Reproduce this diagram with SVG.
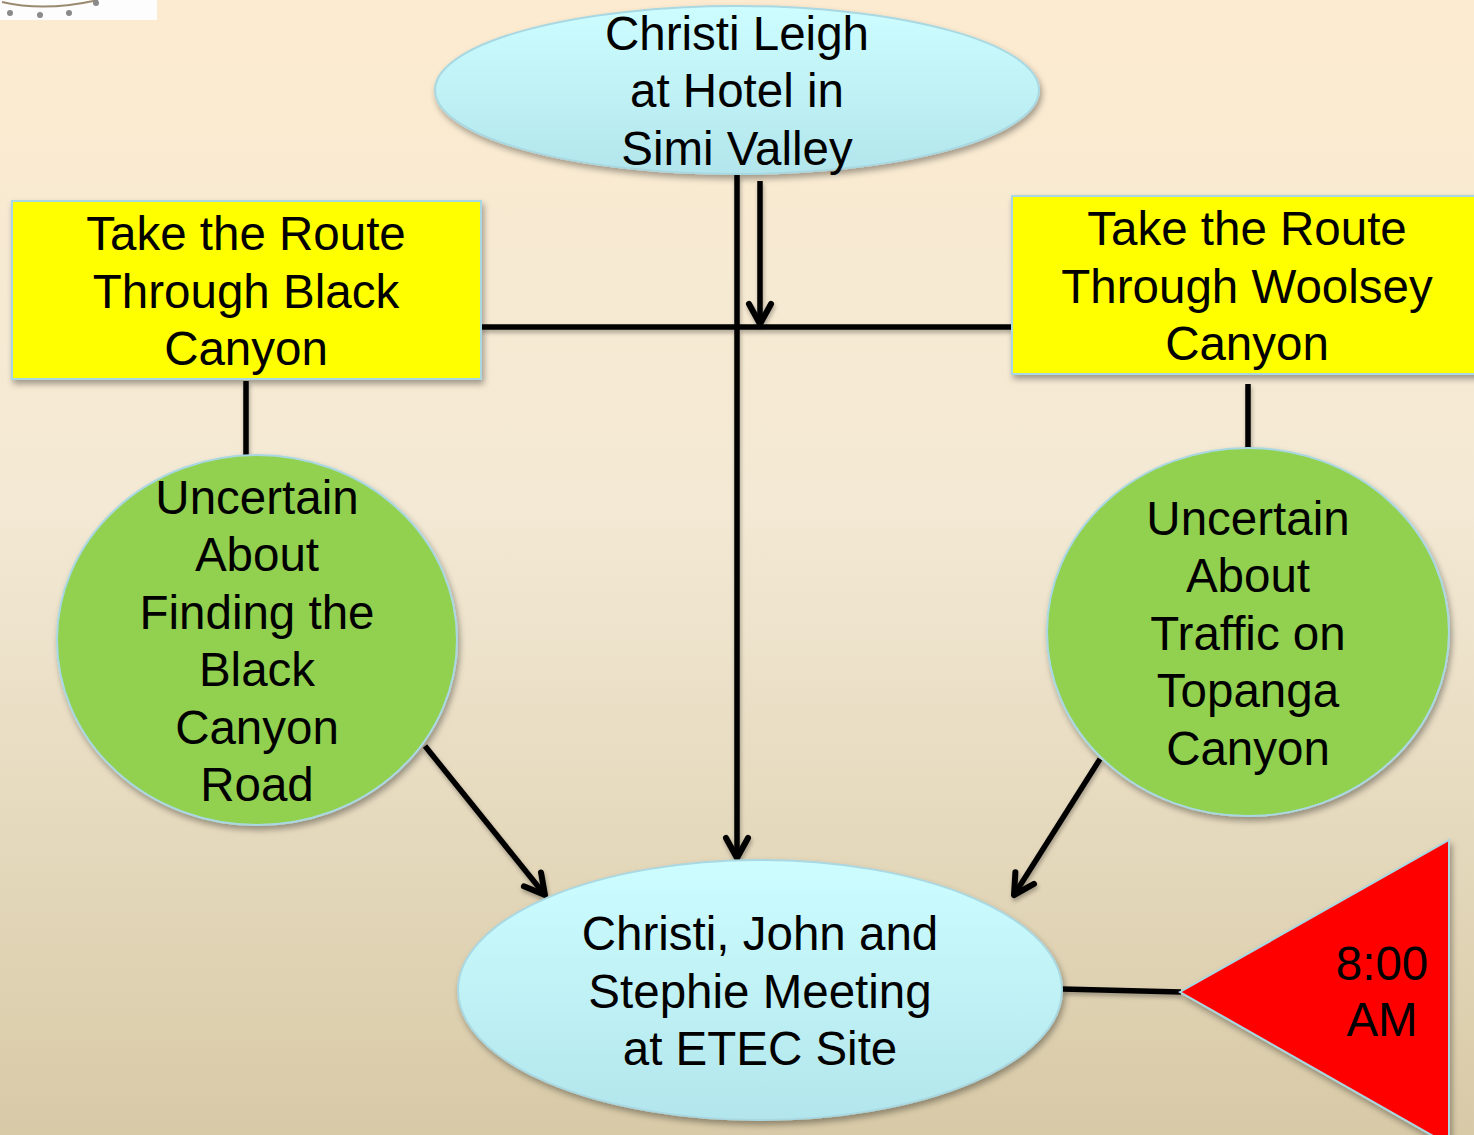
<svg xmlns="http://www.w3.org/2000/svg" width="1474" height="1135" viewBox="0 0 1474 1135">
  <defs>
    <linearGradient id="bg" x1="0" y1="0" x2="0" y2="1">
      <stop offset="0" stop-color="#fcebd0"/>
      <stop offset="0.45" stop-color="#f3e9d4"/>
      <stop offset="1" stop-color="#d8caa7"/>
    </linearGradient>
    <linearGradient id="cyan" x1="0" y1="0" x2="0" y2="1">
      <stop offset="0" stop-color="#cdfdff"/>
      <stop offset="1" stop-color="#b2e6ec"/>
    </linearGradient>
    <filter id="sh" x="-10%" y="-10%" width="120%" height="125%">
      <feDropShadow dx="2" dy="4" stdDeviation="3" flood-color="#000" flood-opacity="0.35"/>
    </filter>
    <filter id="lsh" filterUnits="userSpaceOnUse" x="0" y="0" width="1474" height="1135">
      <feDropShadow dx="1" dy="3" stdDeviation="2" flood-color="#000" flood-opacity="0.3"/>
    </filter>
    <marker id="arr" viewBox="0 0 30 30" refX="26" refY="15" markerWidth="30" markerHeight="30" markerUnits="userSpaceOnUse" orient="auto">
      <path d="M6,4 L26,15 L6,26" fill="none" stroke="#000" stroke-width="6" stroke-linecap="round" stroke-linejoin="round"/>
    </marker>
    <style>
      .node { stroke: #a9d8e2; stroke-width: 2; filter: url(#sh); }
      .yellow { fill: #ffff00; }
      .green { fill: #92d050; }
      .cyan { fill: url(#cyan); }
      .red { fill: #ff0000; }
      .lbl { font-family: "Liberation Sans", Arial, sans-serif; font-size: 47.5px; fill: #000; text-anchor: middle; }
      .conn { stroke: #000; stroke-width: 5.5; fill: none; }
    </style>
  </defs>

  <rect x="0" y="0" width="1474" height="1135" fill="url(#bg)"/>

  <!-- logo fragment -->
  <g id="logo-fragment">
    <rect x="0" y="0" width="157" height="20" fill="#fdfdfd"/>
    <path d="M2,2 Q45,12 98,0" fill="none" stroke="#9a8a70" stroke-width="2"/>
    <circle cx="10" cy="13" r="3" fill="#8a8a8a"/>
    <circle cx="40" cy="15" r="3" fill="#8a8a8a"/>
    <circle cx="69" cy="13" r="3" fill="#8a8a8a"/>
    <circle cx="96" cy="3" r="3" fill="#8a8a8a"/>
  </g>

  <g id="connectors" filter="url(#lsh)">
    <line class="conn" x1="481" y1="327" x2="1012" y2="327"/>
    <line class="conn" x1="737" y1="175" x2="737" y2="858" marker-end="url(#arr)"/>
    <line class="conn" x1="760" y1="181" x2="760" y2="324" marker-end="url(#arr)"/>
    <line class="conn" x1="246" y1="381" x2="246" y2="456"/>
    <line class="conn" x1="1248" y1="384" x2="1248" y2="448"/>
    <line class="conn" x1="425" y1="746" x2="545" y2="895" marker-end="url(#arr)"/>
    <line class="conn" x1="1100" y1="759" x2="1014" y2="895" marker-end="url(#arr)"/>
    <line class="conn" x1="1062" y1="989" x2="1181" y2="992"/>
  </g>

  <g id="hotel">
    <ellipse class="node cyan" cx="737" cy="90" rx="302" ry="84"/>
    <text class="lbl" x="737" y="50">Christi Leigh</text>
    <text class="lbl" x="737" y="107">at Hotel in</text>
    <text class="lbl" x="737" y="165">Simi Valley</text>
  </g>

  <g id="black-canyon-route">
    <rect class="node yellow" x="12" y="201" width="469" height="178"/>
    <text class="lbl" x="246" y="250">Take the Route</text>
    <text class="lbl" x="246" y="308">Through Black</text>
    <text class="lbl" x="246" y="365">Canyon</text>
  </g>

  <g id="woolsey-canyon-route">
    <rect class="node yellow" x="1012" y="196" width="470" height="178"/>
    <text class="lbl" x="1247" y="245">Take the Route</text>
    <text class="lbl" x="1247" y="303">Through Woolsey</text>
    <text class="lbl" x="1247" y="360">Canyon</text>
  </g>

  <g id="uncertain-black-canyon">
    <ellipse class="node green" cx="257" cy="640" rx="200" ry="185"/>
    <text class="lbl" x="257" y="514">Uncertain</text>
    <text class="lbl" x="257" y="571">About</text>
    <text class="lbl" x="257" y="629">Finding the</text>
    <text class="lbl" x="257" y="686">Black</text>
    <text class="lbl" x="257" y="744">Canyon</text>
    <text class="lbl" x="257" y="801">Road</text>
  </g>

  <g id="uncertain-topanga">
    <ellipse class="node green" cx="1248" cy="632" rx="201" ry="184"/>
    <text class="lbl" x="1248" y="535">Uncertain</text>
    <text class="lbl" x="1248" y="592">About</text>
    <text class="lbl" x="1248" y="650">Traffic on</text>
    <text class="lbl" x="1248" y="707">Topanga</text>
    <text class="lbl" x="1248" y="765">Canyon</text>
  </g>

  <g id="meeting">
    <ellipse class="node cyan" cx="760" cy="990" rx="302" ry="130"/>
    <text class="lbl" x="760" y="950">Christi, John and</text>
    <text class="lbl" x="760" y="1008">Stephie Meeting</text>
    <text class="lbl" x="760" y="1065">at ETEC Site</text>
  </g>

  <g id="time">
    <polygon class="node red" points="1180,992 1449,840 1449,1145"/>
    <text class="lbl" x="1382" y="980">8:00</text>
    <text class="lbl" x="1382" y="1036">AM</text>
  </g>
</svg>
